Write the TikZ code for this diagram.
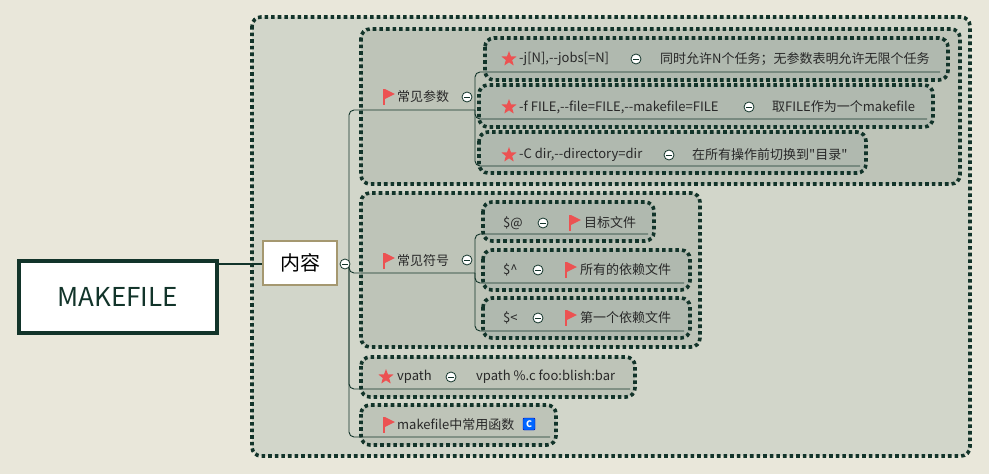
\documentclass[tikz,border=0pt]{standalone}
\usepackage{fontspec}
\setmainfont{Noto Sans CJK SC}
\newfontfamily\qf{Noto Sans CJK SC}
\usetikzlibrary{shapes.geometric}
\definecolor{bgc}{RGB}{233,231,218}
\definecolor{outerc}{RGB}{210,214,202}
\definecolor{groupc}{RGB}{190,196,184}
\definecolor{itemc}{RGB}{176,185,175}
\definecolor{dk}{RGB}{18,52,42}
\definecolor{tx}{RGB}{40,40,40}
\definecolor{fr}{RGB}{236,82,82}
\definecolor{tanc}{RGB}{165,152,112}
\tikzset{
 x=1pt,y=-1pt,
 dotbox/.style={draw=dk,line width=3.6pt,dash pattern=on 3.6pt off 3pt,rounded corners=9},
 lbl/.style={anchor=west,inner sep=0,text=tx,font=\fontsize{13}{15}\selectfont},
 conn/.style={draw=dk,line width=0.9pt,rounded corners=5},
 minusc/.pic={\draw[fill=white,draw=dk,line width=0.8pt] (0,0) circle (5); \draw[dk,line width=1pt] (-2.6,0)--(2.6,0);},
 flagp/.pic={\fill[fr] (-5,-8) rectangle (-3.2,8); \fill[fr] (-3.2,-8) -- (7,-3) -- (-3.2,2) -- cycle;},
 starp/.style={star,star points=5,star point ratio=2.4,fill=fr,minimum size=16pt,inner sep=0},
}
\begin{document}
\begin{tikzpicture}
\fill[bgc] (0,0) rectangle (989,474);
\useasboundingbox (0,0) rectangle (989,474);
% containers
\filldraw[dotbox,fill=outerc] (252,17) rectangle (970,456);
\filldraw[dotbox,fill=groupc] (361,29) rectangle (960,184);
\filldraw[dotbox,fill=itemc] (485,38) rectangle (948,80);
\filldraw[dotbox,fill=itemc] (479,85) rectangle (933,127);
\filldraw[dotbox,fill=itemc] (479,132) rectangle (866,173);
\filldraw[dotbox,fill=groupc] (361,193) rectangle (700,347);
\filldraw[dotbox,fill=itemc] (483,202) rectangle (654,241);
\filldraw[dotbox,fill=itemc] (483,250) rectangle (690,290);
\filldraw[dotbox,fill=itemc] (483,298) rectangle (690,338);
\filldraw[dotbox,fill=groupc] (361,357) rectangle (635,397);
\filldraw[dotbox,fill=groupc] (361,405) rectangle (556,445);
% root nodes
\node[draw=dk,line width=4pt,fill=white,minimum width=198pt,minimum height=72pt,inner sep=0,font=\fontsize{26}{30}\selectfont,text=dk] (root) at (117.5,296.5) {MAKEFILE};
\node[draw=tanc,line width=2pt,fill=white,minimum width=74pt,minimum height=44pt,inner sep=0,font=\fontsize{20}{24}\selectfont,text=black] (nr) at (300,263) {内容};
\draw[dk,line width=2pt] (root.east |- 0,264) -- (nr.west |- 0,264);
\coordinate (hub) at (349,264);
% spine
\coordinate (u1) at (475,110);
\coordinate (u2) at (475,273);
\coordinate (u3) at (630,389);
\coordinate (u4) at (550,437);
\draw[conn] (hub) |- (u1);
\draw[conn] (hub) |- (u2);
\draw[conn] (hub) |- (u3);
\draw[conn] (hub) |- (u4);
\pic at (345,264) {minusc};
% group 1
\pic at (388,97) {flagp};
\node[lbl] (g1) at (397,97) {常见参数};
\coordinate (a1) at (940,72);
\coordinate (a2) at (927,119);
\coordinate (a3) at (860,166);
\draw[conn] (u1) |- (a1);
\draw[conn] (u1) |- (a2);
\draw[conn] (u1) |- (a3);
\pic at (467,97) {minusc};
\node[starp] (s1) at (509,59) {};
\node[lbl] (t1) at (519,59) {-j[N],{-}{-}jobs[=N]};
\pic at (636,59) {minusc};
\node[lbl] (d1) at (660,59) {同时允许N个任务；无参数表明允许无限个任务};
\node[starp] (s2) at (509,107) {};
\node[lbl] (t2) at (519,107) {-f FILE,{-}{-}file=FILE,{-}{-}makefile=FILE};
\pic at (749,107) {minusc};
\node[lbl] (d2) at (772,107) {取FILE作为一个makefile};
\node[starp] (s3) at (509,155) {};
\node[lbl] (t3) at (519,155) {-C dir,{-}{-}directory=dir};
\pic at (669,155) {minusc};
\node[lbl] (d3) at (692,155) {在所有操作前切换到{\qf"}目录{\qf"}};
% group 2
\pic at (388,261) {flagp};
\node[lbl] (g2) at (397,261) {常见符号};
\coordinate (b1) at (648,234);
\coordinate (b2) at (684,283);
\coordinate (b3) at (684,331);
\draw[conn] (u2) |- (b1);
\draw[conn] (u2) |- (b2);
\draw[conn] (u2) |- (b3);
\pic at (467,260) {minusc};
\node[lbl] (t4) at (503,223) {\$@};
\pic at (543,223) {minusc};
\pic at (574,223) {flagp};
\node[lbl] (d4) at (584,223) {目标文件};
\node[lbl] (t5) at (503,270) {\$\^{}};
\pic at (538,270) {minusc};
\pic at (570,270) {flagp};
\node[lbl] (d5) at (580,270) {所有的依赖文件};
\node[lbl] (t6) at (503,318) {\$<};
\pic at (538,318) {minusc};
\pic at (570,318) {flagp};
\node[lbl] (d6) at (580,318) {第一个依赖文件};
% vpath
\node[starp] (s7) at (386,377) {};
\node[lbl] (t7) at (397,377) {vpath};
\pic at (451,377) {minusc};
\node[lbl] (d7) at (476,377) {vpath \%.c foo:blish:bar};
% functions
\pic at (388,425) {flagp};
\node[lbl] (t8) at (397,425) {makefile中常用函数};
\node[fill=blue!60!cyan,draw=blue!70!black,text=white,minimum size=12pt,inner sep=0,rounded corners=1,font=\bfseries\fontsize{9}{9}\selectfont] (c8) at (529,424) {C};
\end{tikzpicture}
\end{document}
